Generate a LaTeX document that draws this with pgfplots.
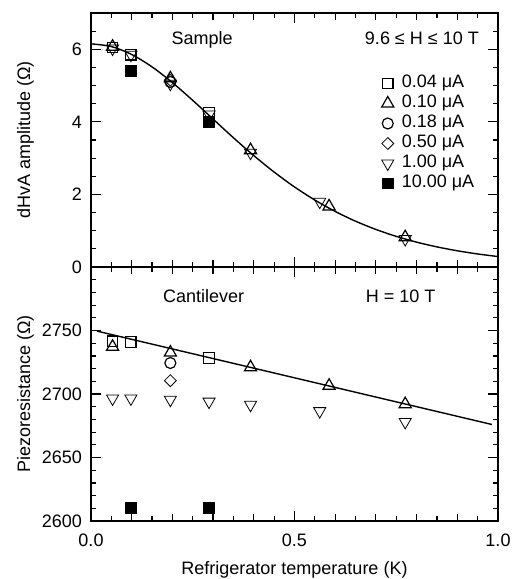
\documentclass[border=0pt]{standalone}
\usepackage{pgfplots}
\pgfplotsset{compat=1.18}
\usepackage{fontspec}
\setmainfont{Liberation Sans}
\newcommand{\ff}{\fontsize{9}{10}\selectfont}
\pgfplotsset{
  om/.style={only marks, mark options={solid, fill=none, line width=0.6pt},
    legend image code/.code={\path[draw=none, fill=none] (0cm,0cm) -- (0.46cm,0cm); \draw[mark repeat=2,mark phase=2,##1] plot coordinates {(0cm,0cm) (0.23cm,0cm) (0.46cm,0cm)};}},
  sq/.style={om, mark=square, mark size=2.6pt},
  tri/.style={om, mark=triangle, mark size=3.5pt},
  cir/.style={om, mark=o, mark size=2.75pt},
  dia/.style={om, mark=square, mark size=2.1pt, mark options={rotate=45, fill=none}},
  inv/.style={om, mark=triangle, mark size=3.5pt, mark options={rotate=180, fill=none}},
  fsq/.style={om, mark=square*, mark size=2.6pt, mark options={fill=black}},
  myaxis/.style={
    scale only axis, width=203.5pt, height=127pt,
    xmin=0, xmax=1,
    tick align=inside, xtick pos=both, ytick pos=both,
    xtick={0,0.5,1}, minor xtick={0,0.05,...,1.01},
    extra x ticks={0.1,0.2,0.3,0.4,0.6,0.7,0.8,0.9},
    extra x tick labels={},
    extra x tick style={major tick length=3.7pt},
    major tick length=5pt, minor tick length=2.7pt,
    axis line style={line width=0.75pt},
    every tick/.style={black, line width=0.6pt},
    tick label style={font=\ff},
    label style={font=\ff},
    /pgf/number format/assume math mode=true,
    /pgf/number format/set thousands separator={},
    scaled ticks=false,
    yticklabel style={xshift=-1pt},
    ylabel style={at={(axis description cs:-0.161,0.5)}, anchor=center},
  },
}
\begin{document}
\begin{tikzpicture}
\begin{axis}[myaxis,
  at={(45.5pt,156pt)}, anchor=south west,
  ymin=0, ymax=7, ytick={0,2,4,6}, minor ytick={0,0.5,...,7},
  xticklabels={},
  ylabel={dHvA amplitude (Ω)},
  legend cell align=left,
  legend style={draw=none, fill=none, at={(axis cs:0.696,5.33)}, anchor=north west,
    font=\ff, inner sep=0pt, row sep=0.5pt,
    nodes={inner sep=0.5pt, text height=6.5pt, text depth=2pt}},
]
\addplot[black, line width=0.7pt, smooth, forget plot] coordinates {
(0,6.15) (0.05,6.075) (0.1,5.856) (0.15,5.515) (0.2,5.082) (0.25,4.592) (0.3,4.076)
(0.35,3.561) (0.4,3.070) (0.45,2.616) (0.5,2.206) (0.55,1.845) (0.6,1.531) (0.65,1.262)
(0.7,1.035) (0.75,0.844) (0.8,0.685) (0.85,0.554) (0.9,0.447) (0.95,0.359) (1.0,0.288)};
\addplot[sq] coordinates {(0.053,6.05) (0.098,5.85) (0.29,4.25)};
\addlegendentry{0.04 μA}
\addplot[tri] coordinates {(0.053,6.07) (0.195,5.2) (0.392,3.22) (0.585,1.67) (0.772,0.82)};
\addlegendentry{0.10 μA}
\addplot[cir] coordinates {(0.195,5.1)};
\addlegendentry{0.18 μA}
\addplot[dia] coordinates {(0.195,5.15)};
\addlegendentry{0.50 μA}
\addplot[inv] coordinates {(0.053,6.02) (0.098,5.85) (0.195,5.05) (0.29,4.2) (0.392,3.15) (0.562,1.8) (0.772,0.77)};
\addlegendentry{1.00 μA}
\addplot[fsq] coordinates {(0.098,5.4) (0.29,4.0)};
\addlegendentry{10.00 μA}
\node[font=\ff, anchor=base] at (axis cs:0.273,6.13) {Sample};
\node[font=\ff, anchor=base] at (axis cs:0.813,6.13) {9.6 ≤ H ≤ 10 T};
\end{axis}
\begin{axis}[myaxis,
  at={(45.5pt,29pt)}, anchor=south west,
  ymin=2600, ymax=2800, ytick={2600,2650,2700,2750}, minor ytick={2600,2610,...,2800},
  xticklabels={0.0,0.5,1.0},
  xticklabel style={yshift=-3pt},
  ylabel={Piezoresistance (Ω)},
  xlabel={Refrigerator temperature (K)},
  xlabel style={at={(axis description cs:0.5,-0.193)}, anchor=center},
]
\addplot[black, line width=0.7pt] coordinates {(0.015,2749.5) (0.985,2676)};
\addplot[sq] coordinates {(0.053,2741.6) (0.098,2741) (0.29,2728.4)};
\addplot[tri] coordinates {(0.053,2737.2) (0.195,2732.6) (0.392,2721) (0.585,2706.5) (0.772,2692)};
\addplot[cir] coordinates {(0.195,2724.4)};
\addplot[dia] coordinates {(0.195,2710.5)};
\addplot[inv] coordinates {(0.053,2696.5) (0.098,2696.5) (0.195,2695.5) (0.29,2694) (0.392,2691.5) (0.562,2686.5) (0.772,2678)};
\addplot[fsq] coordinates {(0.098,2610.3) (0.29,2610.3)};
\node[font=\ff, anchor=base] at (axis cs:0.277,2772.4) {Cantilever};
\node[font=\ff, anchor=base] at (axis cs:0.761,2772.4) {H = 10 T};
\end{axis}
\pgfresetboundingbox
\useasboundingbox (0pt,0pt) rectangle (255.5pt,289.5pt);
\end{tikzpicture}
\end{document}
